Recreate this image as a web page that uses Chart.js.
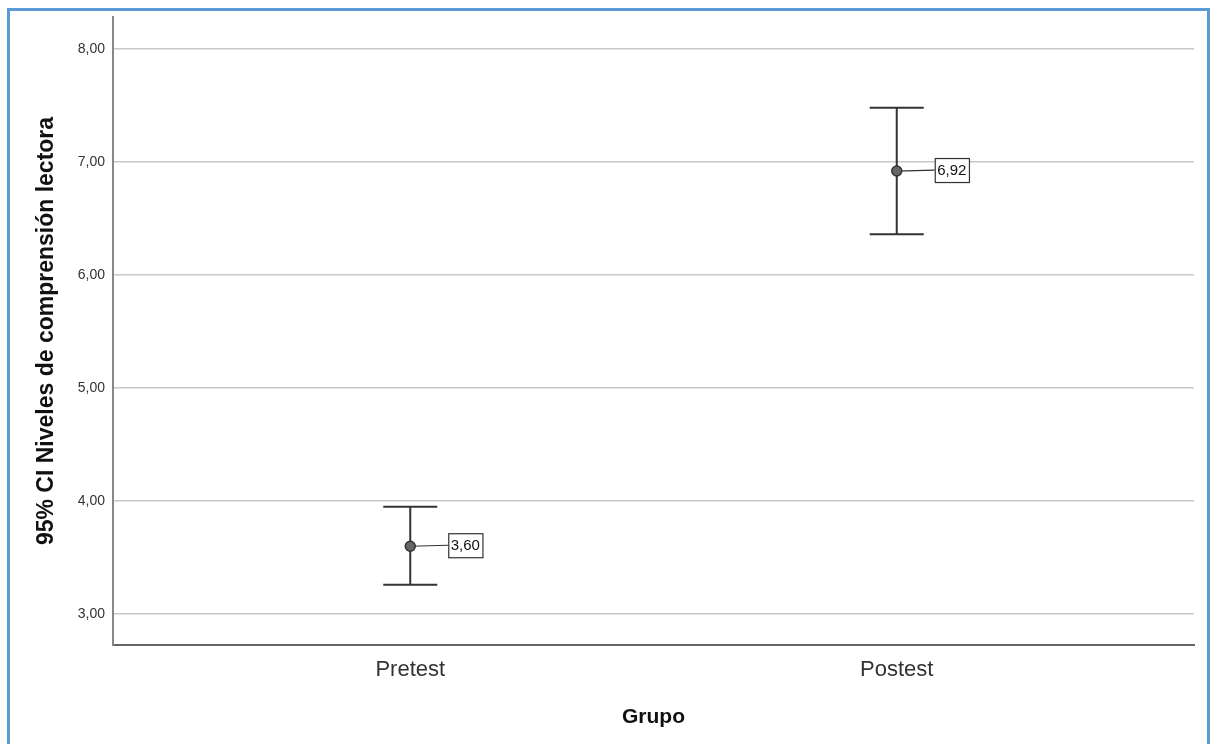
<!DOCTYPE html>
<html>
<head>
<meta charset="utf-8">
<script src="https://cdn.jsdelivr.net/npm/chart.js@4"></script>
<style>
  html, body { margin: 0; padding: 0; background: #fff; overflow: hidden; }
  #wrap { position: relative; width: 1215px; height: 744px; }
  #frame {
    position: absolute; left: 7px; top: 8px; width: 1197px; height: 760px;
    border: 3px solid #5b9bd5; pointer-events: none;
  }
</style>
</head>
<body>
<div id="wrap">
  <canvas id="chart" width="1215" height="744"></canvas>
  <div id="frame"></div>
</div>
<script>
const groups = ['Pretest', 'Postest'];
const means = [3.60, 6.92];
const lower = [3.26, 6.36];
const upper = [3.95, 7.48];
const yTicks = [3, 4, 5, 6, 7, 8];

const FONT = 'Arial, "Liberation Sans", sans-serif';

function fmt(v) {
  return v.toFixed(2).replace('.', ',');
}

const errorBars = {
  id: 'errorBars',
  afterDatasetsDraw(chart) {
    const ctx = chart.ctx;
    const xs = chart.scales.x;
    const ys = chart.scales.y;
    ctx.save();
    groups.forEach((g, i) => {
      const x = xs.getPixelForValue(i);
      const yl = ys.getPixelForValue(lower[i]);
      const yu = ys.getPixelForValue(upper[i]);
      const ym = ys.getPixelForValue(means[i]);
      ctx.strokeStyle = '#333';
      ctx.lineWidth = 2;
      ctx.beginPath();
      ctx.moveTo(x, yu); ctx.lineTo(x, yl);
      ctx.moveTo(x - 27, yu); ctx.lineTo(x + 27, yu);
      ctx.moveTo(x - 27, yl); ctx.lineTo(x + 27, yl);
      ctx.stroke();

      // label box
      ctx.font = '15px ' + FONT;
      const txt = fmt(means[i]);
      const tw = ctx.measureText(txt).width;
      const bx = x + 38, bh = 24, bw = tw + 5;
      ctx.lineWidth = 1.2;
      ctx.beginPath();
      ctx.moveTo(x, ym); ctx.lineTo(bx, ym - 1);
      ctx.stroke();
      ctx.fillStyle = '#fff';
      ctx.fillRect(bx, ym - 1 - bh / 2, bw, bh);
      ctx.strokeRect(bx + 0.5, ym - 1 - bh / 2 + 0.5, bw, bh);
      ctx.fillStyle = '#111';
      ctx.textBaseline = 'middle';
      ctx.fillText(txt, bx + 2.5, ym);

      // mean point
      ctx.beginPath();
      ctx.arc(x, ym, 5, 0, Math.PI * 2);
      ctx.fillStyle = '#666';
      ctx.fill();
      ctx.lineWidth = 1.5;
      ctx.strokeStyle = '#333';
      ctx.stroke();
    });
    ctx.restore();
  }
};

new Chart(document.getElementById('chart'), {
  type: 'scatter',
  data: {
    datasets: [{
      data: means.map((m, i) => ({ x: i, y: m })),
      pointRadius: 0,
      showLine: false
    }]
  },
  options: {
    responsive: false,
    animation: false,
    events: [],
    layout: { padding: { top: 17, right: 21, left: 0, bottom: 0 } },
    plugins: { legend: { display: false }, tooltip: { enabled: false } },
    scales: {
      x: {
        type: 'linear',
        min: -0.611,
        max: 1.611,
        afterBuildTicks(scale) {
          scale.ticks = groups.map((g, i) => ({ value: i }));
        },
        afterFit(scale) { scale.height = 99; },
        ticks: {
          callback: (v) => groups[v],
          color: '#333',
          font: { family: FONT, size: 22 },
          padding: 12
        },
        grid: { display: false, drawTicks: false },
        border: { display: true, color: '#666', width: 2 },
        title: {
          display: true,
          text: 'Grupo',
          color: '#111',
          font: { family: FONT, size: 21, weight: 'bold' },
          padding: { top: 10, bottom: 14 }
        }
      },
      y: {
        min: 2.726,
        max: 8.283,
        afterBuildTicks(scale) {
          scale.ticks = yTicks.map((v) => ({ value: v }));
        },
        afterFit(scale) { scale.width = 113; },
        ticks: {
          callback: (v) => fmt(v),
          color: '#333',
          font: { family: FONT, size: 14 },
          padding: 8
        },
        grid: { color: '#c8c8c8', lineWidth: 1.5, drawTicks: false },
        border: { display: true, color: '#888', width: 2 },
        title: {
          display: true,
          text: '95% CI Niveles de comprensión lectora',
          color: '#111',
          font: { family: FONT, size: 23, weight: 'bold' },
          padding: { top: 33, bottom: 4 }
        }
      }
    }
  },
  plugins: [errorBars]
});
</script>
</body>
</html>
